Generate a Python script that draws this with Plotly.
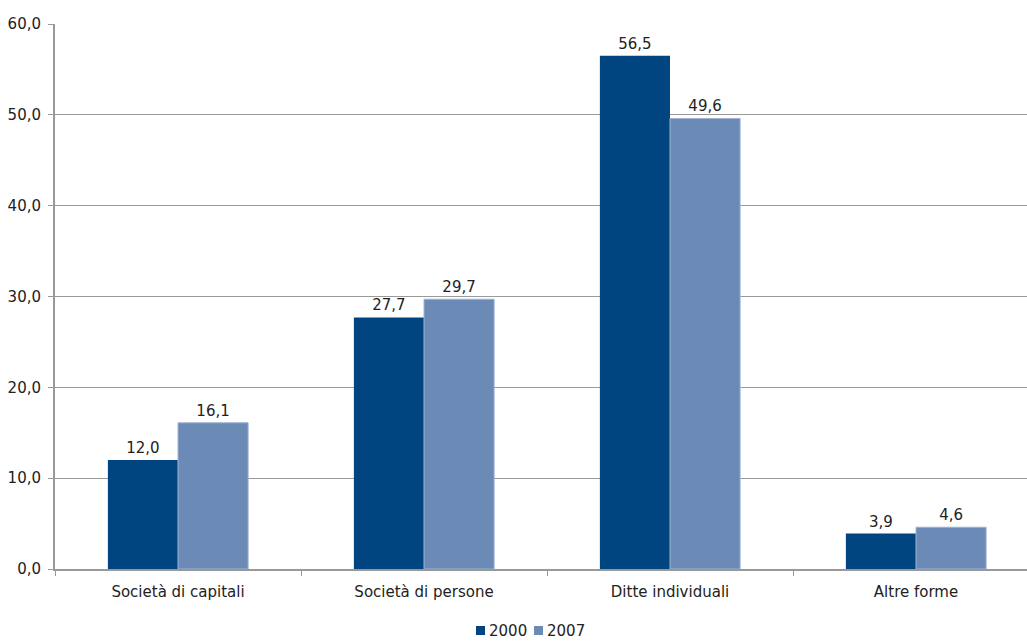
import plotly.graph_objects as go

categories = ["Società di capitali", "Società di persone", "Ditte individuali", "Altre forme"]
values_2000 = [12.0, 27.7, 56.5, 3.9]
values_2007 = [16.1, 29.7, 49.6, 4.6]
series_names = ["2000", "2007"]
y_ticks = [0, 10, 20, 30, 40, 50, 60]

FONT = "DejaVu Sans"
SIZE = 15
COLORS = ["#00457F", "#6C8AB6"]

# plot area in pixels (used to place the legend keys in paper coordinates)
W, H = 1027, 641
ML, MR, MT, MB = 55, 0, 24, 72
PW, PH = W - ML - MR, H - MT - MB


def lbl(v):
    return f"{v:.1f}".replace(".", ",")


def px_x(p):
    return (p - ML) / PW


def px_y(p):
    return (H - MB - p) / PH


fig = go.Figure()
for name, vals, col in zip(series_names, [values_2000, values_2007], COLORS):
    fig.add_trace(go.Bar(
        name=name, x=categories, y=vals,
        marker=dict(color=col, line=dict(width=1 if name == "2007" else 0, color="#9FB3D1")),
        text=[lbl(v) for v in vals], textposition="outside",
        textfont=dict(size=SIZE, color="#222222", family=FONT), cliponaxis=False,
    ))

# compact legend below the axis: small square key followed by the series name
key_left = [476, 534]
for name, col, kx in zip(series_names, COLORS, key_left):
    fig.add_shape(type="rect", xref="paper", yref="paper",
                  x0=px_x(kx), x1=px_x(kx + 9), y0=px_y(635), y1=px_y(626),
                  fillcolor=col, line=dict(width=0))
    fig.add_annotation(text=name, xref="paper", yref="paper",
                       x=px_x(kx + 11), y=px_y(631), xanchor="left", yanchor="middle",
                       showarrow=False, font=dict(size=SIZE, color="#222222", family=FONT))

fig.update_layout(
    width=W, height=H,
    margin=dict(l=ML, r=MR, t=MT, b=MB, autoexpand=False),
    paper_bgcolor="white", plot_bgcolor="white",
    barmode="group", bargap=0.43, bargroupgap=0,
    separators=", ",
    font=dict(family=FONT, size=SIZE, color="#222222"),
    uniformtext=dict(minsize=SIZE, mode="show"),
    showlegend=False,
)
fig.update_xaxes(
    range=[-0.5, -0.5 + PW / 246], automargin=False,
    showline=True, linecolor="#999999", linewidth=2,
    ticks="outside", tickson="boundaries", ticklen=5, tickcolor="#999999",
    ticklabelstandoff=8,
    showgrid=False, tickfont=dict(size=SIZE),
)
fig.update_yaxes(
    range=[0, 60], tickvals=y_ticks, tickformat=".1f", automargin=False,
    showline=True, linecolor="#999999", linewidth=2,
    ticks="outside", ticklen=5, tickcolor="#999999",
    ticklabelstandoff=4,
    showgrid=True, gridcolor="#999999", gridwidth=1,
    zeroline=False, tickfont=dict(size=SIZE),
)

fig.write_html("out.html")
